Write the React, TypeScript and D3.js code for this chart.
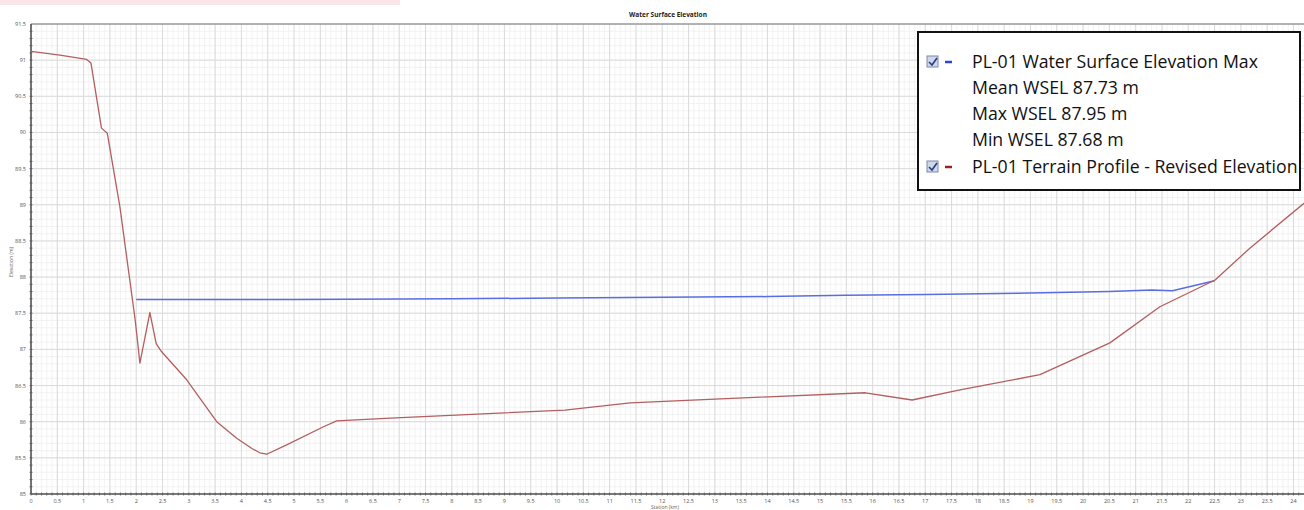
import React from "react";
import * as d3 from "d3";

const terrainStation = [0, 0.55, 1.06, 1.14, 1.34, 1.45, 1.69, 1.98, 2.07, 2.26, 2.38, 2.48, 2.96, 3.53, 3.91, 4.2, 4.35, 4.48, 4.86, 5.56, 5.81, 6.83, 10.15, 11.39, 13.86, 15.86, 16.75, 17.66, 19.18, 20.51, 21.46, 22.51, 23.17, 24.2];
const terrainElev = [91.12, 91.07, 91.01, 90.96, 90.06, 89.99, 88.97, 87.41, 86.81, 87.51, 87.08, 86.97, 86.58, 86.0, 85.77, 85.63, 85.57, 85.55, 85.68, 85.93, 86.01, 86.05, 86.16, 86.26, 86.34, 86.4, 86.3, 86.44, 86.65, 87.09, 87.59, 87.96, 88.4, 89.02];

const wselStation = [2.0, 5, 8, 10, 12, 14, 15.5, 17, 19, 20.5, 21.3, 21.7, 22.5];
const wselElev = [87.69, 87.69, 87.7, 87.71, 87.72, 87.73, 87.75, 87.76, 87.78, 87.8, 87.82, 87.81, 87.95];

const legendLines = [
  "PL-01 Water Surface Elevation Max",
  "Mean WSEL 87.73 m",
  "Max WSEL 87.95 m",
  "Min WSEL 87.68 m",
  "PL-01 Terrain Profile - Revised Elevation",
];

const W = 1304;
const H = 510;
const left = 31;
const right = 1304;
const top = 24;
const bottom = 494;

export default function App() {
  const x = d3.scaleLinear().domain([0, 24.2]).range([left, right]);
  const y = d3.scaleLinear().domain([85, 91.5]).range([bottom, top]);

  const xMajor = d3.range(0, 24.01, 0.5);
  const xMinor = d3.range(0, 24.2, 0.1);
  const yMajor = d3.range(85, 91.51, 0.5);
  const yMinor = d3.range(85, 91.5, 0.1);

  const line = d3
    .line<[number, number]>()
    .x((d) => x(d[0]))
    .y((d) => y(d[1]));

  const terrain: [number, number][] = terrainStation.map((s, i) => [s, terrainElev[i]]);
  const wsel: [number, number][] = wselStation.map((s, i) => [s, wselElev[i]]);

  const fmt = (v: number) => (Math.abs(v - Math.round(v)) < 1e-6 ? String(Math.round(v)) : v.toFixed(1));

  const lx = 918;
  const ly = 32;
  const lw = 382;
  const lh = 158;
  const rowY = [62, 88, 114, 140, 167];

  return (
    <svg width={W} height={H} style={{ position: "absolute", left: 0, top: 0, background: "#fff" }}>
      <rect x={0} y={0} width={400} height={5} fill="#f6d6d8" opacity={0.6} />
      <text x={668} y={17} textAnchor="middle" fontFamily="Open Sans, sans-serif" fontSize={6.5} fontWeight="bold" fill="#222">
        Water Surface Elevation
      </text>
      {xMinor.map((v, i) => (
        <line key={"xm" + i} x1={x(v)} x2={x(v)} y1={top} y2={bottom} stroke="#eeeeee" strokeWidth={0.7} />
      ))}
      {yMinor.map((v, i) => (
        <line key={"ym" + i} x1={left} x2={right} y1={y(v)} y2={y(v)} stroke="#eeeeee" strokeWidth={0.7} />
      ))}
      {xMajor.map((v, i) => (
        <line key={"xM" + i} x1={x(v)} x2={x(v)} y1={top} y2={bottom} stroke="#d8d8d8" strokeWidth={0.9} />
      ))}
      {yMajor.map((v, i) => (
        <line key={"yM" + i} x1={left} x2={right} y1={y(v)} y2={y(v)} stroke="#d8d8d8" strokeWidth={0.9} />
      ))}
      <line x1={left} x2={right} y1={top} y2={top} stroke="#777" strokeWidth={1} />
      <line x1={left} x2={left} y1={top} y2={bottom} stroke="#555" strokeWidth={1.6} />
      <line x1={left} x2={right} y1={bottom} y2={bottom} stroke="#555" strokeWidth={1.6} />
      {xMinor.map((v, i) => (
        <line key={"xt" + i} x1={x(v)} x2={x(v)} y1={bottom - 1.5} y2={bottom + 1.5} stroke="#555" strokeWidth={0.8} />
      ))}
      {yMinor.map((v, i) => (
        <line key={"yt" + i} x1={left - 1.5} x2={left + 1.5} y1={y(v)} y2={y(v)} stroke="#555" strokeWidth={0.8} />
      ))}
      {xMajor.map((v, i) => (
        <text key={"xl" + i} x={x(v)} y={503} textAnchor="middle" fontFamily="Open Sans, sans-serif" fontSize={5.5} fill="#555">
          {fmt(v)}
        </text>
      ))}
      {yMajor.map((v, i) => (
        <text key={"yl" + i} x={26} y={y(v) + 2} textAnchor="end" fontFamily="Open Sans, sans-serif" fontSize={5.5} fill="#555">
          {fmt(v)}
        </text>
      ))}
      <text x={665} y={509} textAnchor="middle" fontFamily="Open Sans, sans-serif" fontSize={5} fill="#666">
        Station (km)
      </text>
      <text transform="translate(13,262) rotate(-90)" textAnchor="middle" fontFamily="Open Sans, sans-serif" fontSize={5} fill="#666">
        Elevation (m)
      </text>
      <path d={line(wsel) || ""} fill="none" stroke="#5a6de0" strokeWidth={1.5} />
      <path d={line(terrain) || ""} fill="none" stroke="#b45e60" strokeWidth={1.3} strokeLinejoin="round" />
      <rect x={lx} y={ly} width={lw} height={lh} fill="#fff" stroke="#111" strokeWidth={2} />
      {legendLines.map((t, i) => {
        const hasMarker = i === 0 || i === legendLines.length - 1;
        const color = i === 0 ? "#2f44d8" : "#9b2020";
        return (
          <g key={"lg" + i}>
            {hasMarker && (
              <g>
                <rect x={927} y={rowY[i] - 6} width={11} height={11} fill="#cfd8ea" stroke="#7a8aa8" strokeWidth={1} />
                <path d={`M929,${rowY[i]} L932,${rowY[i] + 3} L937,${rowY[i] - 4}`} fill="none" stroke="#2a3a8a" strokeWidth={1.6} />
                <line x1={945} x2={952} y1={rowY[i]} y2={rowY[i]} stroke={color} strokeWidth={2.5} />
              </g>
            )}
            <text x={972} y={rowY[i] + 6} fontFamily="Open Sans, sans-serif" fontSize={17.7} fill="#111">
              {t}
            </text>
          </g>
        );
      })}
    </svg>
  );
}
